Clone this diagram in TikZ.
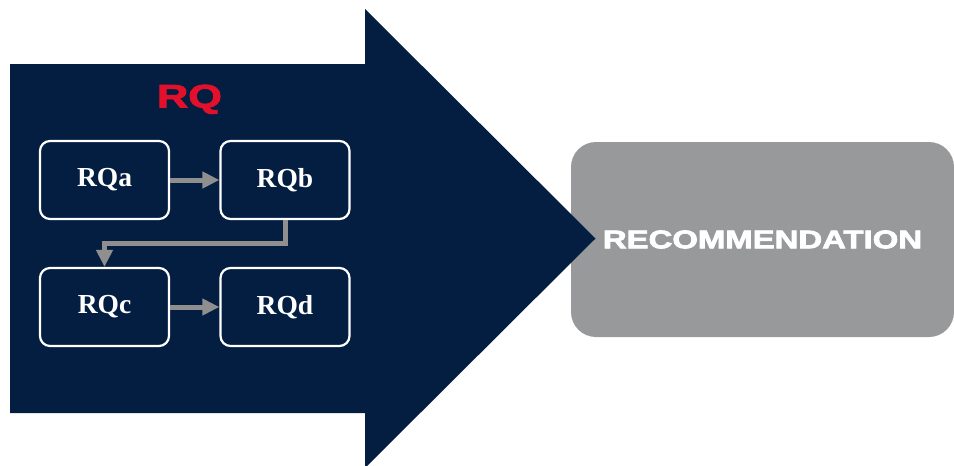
\documentclass[tikz,border=0pt]{standalone}
\usepackage{fontspec}
\setmainfont{Liberation Serif}
\newfontfamily\headfont[FakeBold=2.5]{Liberation Sans}
\usetikzlibrary{arrows.meta}
\definecolor{navy}{HTML}{041E42}
\definecolor{rqred}{HTML}{E3102B}
\definecolor{recgray}{HTML}{98999B}
\definecolor{flowgray}{HTML}{8F8F8F}
\begin{document}
\begin{tikzpicture}[x=1pt,y=-1pt,
  rqbox/.style={draw=white, line width=2.2pt, rounded corners=10pt, fill=navy,
    minimum width=129pt, minimum height=78pt, inner sep=0pt, text=white,
    font=\bfseries\fontsize{27.5}{27.5}\selectfont},
  flow/.style={draw=flowgray, line width=5pt,
    -{Triangle[width=16pt,length=17pt]}},
  recbox/.style={fill=recgray, rounded corners=25pt, minimum width=383pt,
    minimum height=195pt, inner sep=0pt, text=white,
    font=\headfont\bfseries\fontsize{25.5}{25.5}\selectfont}
]
\useasboundingbox (0,0) rectangle (954,466);

% recommendation panel, partly covered by the arrow tip
\node[recbox] (rec) at (762.5,239.5) {\scalebox{1.29}[1]{RECOMMENDATION}};

% large navy arrow
\fill[navy] (10,64) -- (365,64) -- (365,9) -- (595.5,238.5) -- (365,468)
  -- (365,413) -- (10,413) -- cycle;

% title
\node[anchor=base, text=rqred, inner sep=0pt,
  font=\headfont\bfseries\fontsize{32.5}{32.5}\selectfont] (title) at (189.5,107.5)
  {\scalebox{1.33}[1]{RQ}};

% research question boxes
\node[rqbox] (RQa) at (104.5,180) {RQa};
\node[rqbox] (RQb) at (285,180) {RQb};
\node[rqbox] (RQc) at (104.5,307) {RQc};
\node[rqbox] (RQd) at (285,307) {RQd};

% flow between questions
\draw[flow] (RQa) -- (RQb);
\draw[flow] (RQb.south) -- ++(0,23) -| (RQc.north);
\draw[flow] (RQc) -- (RQd);
\end{tikzpicture}
\end{document}
